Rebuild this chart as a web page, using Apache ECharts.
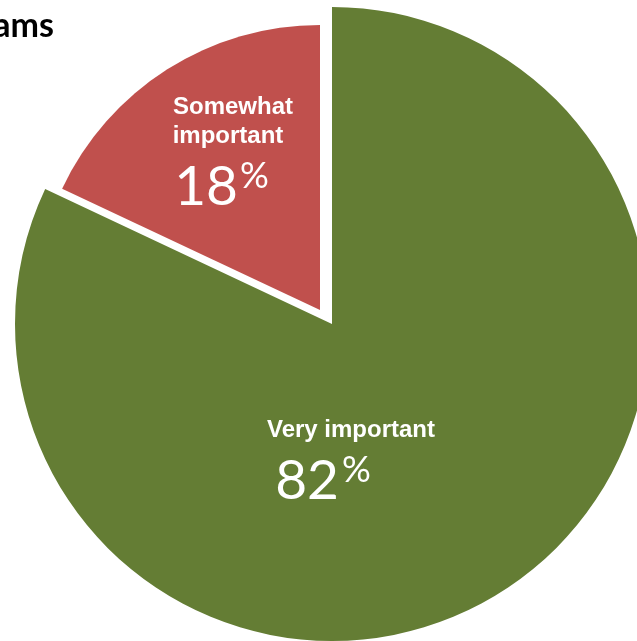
<!DOCTYPE html>
<html>
<head>
<meta charset="utf-8">
<script src="https://cdn.jsdelivr.net/npm/echarts@6/dist/echarts.min.js"></script>
<style>html,body{margin:0;padding:0;background:#fff;}#c{width:637px;height:641px;}</style>
</head>
<body>
<div id="c"></div>
<script>
const categories = ['Very important', 'Somewhat important'];
const values = [82, 18];
const titleText = 'ams';

const colors = ['#647D34', '#C0504D'];
const chart = echarts.init(document.getElementById('c'), null, {renderer: 'canvas'});

function pieData(showIndex) {
  return categories.map((name, i) => ({
    name: name,
    value: values[i],
    itemStyle: { color: i === showIndex ? colors[i] : 'rgba(0,0,0,0)' }
  }));
}

const baseSeries = {
  type: 'pie',
  startAngle: 90,
  clockwise: true,
  silent: true,
  animation: false,
  label: { show: false },
  labelLine: { show: false },
  emphasis: { disabled: true }
};

function txt(x, y, text, size, weight, family, align) {
  return {
    type: 'text', x: x, y: y, z: 100, zlevel: 1, silent: true,
    style: {
      text: text, fontSize: size, fontWeight: weight, fontFamily: family,
      fill: '#fff', textAlign: align, textVerticalAlign: 'middle'
    }
  };
}
const nameFam = 'Liberation Sans, Arial, sans-serif';
const numFam = 'Lato, Open Sans, sans-serif';

const title = txt(54, 26, titleText, 34, 'bold', 'Lato', 'right');
title.style.fill = '#000';

const option = {
  backgroundColor: '#ffffff',
  series: [
    Object.assign({}, baseSeries, { center: [332, 324], radius: 317, data: pieData(0) }),
    Object.assign({}, baseSeries, { center: [320, 310], radius: 285, data: pieData(1) })
  ],
  graphic: [
    title,
    txt(233, 107, categories[1].split(' ')[0], 24, 'bold', nameFam, 'center'),
    txt(228, 136, categories[1].split(' ')[1], 24, 'bold', nameFam, 'center'),
    txt(238, 187, String(values[1]), 55, 'normal', numFam, 'right'),
    txt(240, 176, '%', 36, 'normal', numFam, 'left'),
    txt(351, 430, categories[0], 24, 'bold', nameFam, 'center'),
    txt(339, 481, String(values[0]), 55, 'normal', numFam, 'right'),
    txt(342, 470, '%', 36, 'normal', numFam, 'left')
  ]
};
chart.setOption(option);
</script>
</body>
</html>
